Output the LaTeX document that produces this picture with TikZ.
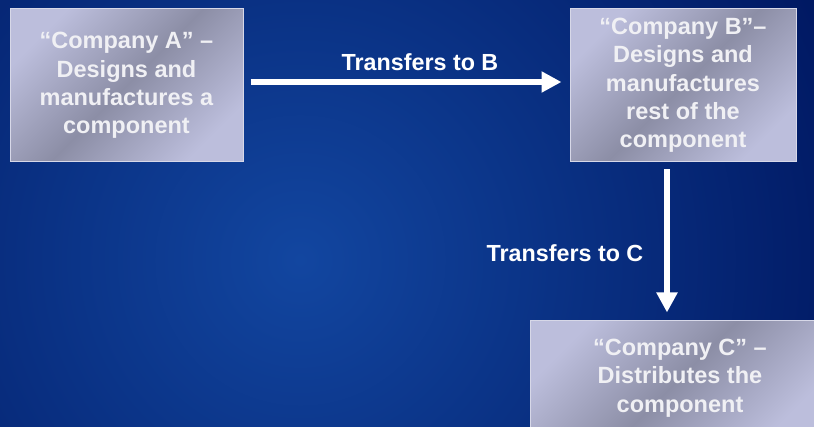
\documentclass[tikz,border=0pt]{standalone}
\usepackage{fontspec}
\setmainfont{Liberation Sans}
\usetikzlibrary{arrows.meta}
\definecolor{bgin}{RGB}{18,70,160}
\definecolor{bgout}{RGB}{0,24,98}
\definecolor{boxlight}{RGB}{188,190,220}
\definecolor{boxdark}{RGB}{140,142,166}
\definecolor{boxline}{RGB}{215,216,232}
\definecolor{boxtext}{RGB}{240,240,244}
\tikzset{
  company/.style={draw=boxline, line width=1pt, inner sep=0pt, align=center,
    left color=boxlight, right color=boxlight, middle color=boxdark, shading angle=45,
    text=boxtext, font=\fontsize{23.5}{28.3}\selectfont\bfseries},
  flowarrow/.style={draw=white, line width=6.5pt, -{Triangle[length=20pt,width=20pt]}},
  flowlabel/.style={text=white, font=\fontsize{23.3}{27}\selectfont\bfseries, inner sep=0pt}
}
\begin{document}
\begin{tikzpicture}[x=1pt,y=-1pt]
\useasboundingbox (0,0) rectangle (814,427);
\begin{scope}
\clip (0,0) rectangle (814,427);
\fill[bgout] (0,0) rectangle (814,427);
\shade[inner color=bgin, outer color=bgout] (300,260) circle (580);
\node[company, minimum width=233pt, minimum height=153pt] (A) at (126.5,85.5)
  {``Company A'' --\\Designs and\\manufactures a\\component};
\node[company, minimum width=226pt, minimum height=153pt] (B) at (683,85.5)
  {``Company B''--\\Designs and\\manufactures\\rest of the\\component};
\node[company, minimum width=300pt, minimum height=114pt] (C) at (680,378)
  {``Company C'' --\\Distributes the\\component};
\draw[flowarrow] ([xshift=7pt,yshift=3.5pt]A.east) -- ([xshift=-8pt,yshift=3.5pt]B.west);
\draw[flowarrow] ([xshift=-16pt,yshift=-7pt]B.south) -- ([xshift=-13pt,yshift=8pt]C.north);
\node[flowlabel] (LB) at (420,62) {Transfers to B};
\node[flowlabel] (LC) at (565,253) {Transfers to C};
\end{scope}
\end{tikzpicture}
\end{document}
